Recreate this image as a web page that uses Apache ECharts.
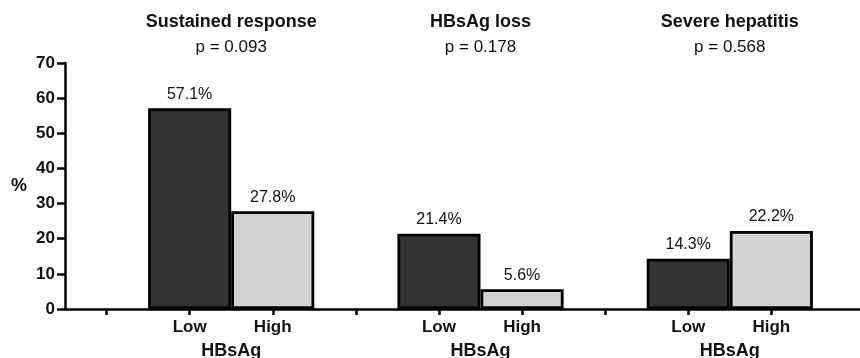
<!DOCTYPE html>
<html>
<head>
<meta charset="utf-8">
<script src="https://cdn.jsdelivr.net/npm/echarts@6/dist/echarts.min.js"></script>
<style>
html,body{margin:0;padding:0;background:#fff;}
#chart{width:860px;height:358px;}
</style>
</head>
<body>
<div id="chart"></div>
<script>
const categories = ['', 'Low', 'High', '', 'Low', 'High', '', 'Low', 'High', ''];
const groupTitles = ['Sustained response', 'HBsAg loss', 'Severe hepatitis'];
const pValues = ['p = 0.093', 'p = 0.178', 'p = 0.568'];
const lowValues = [57.1, 21.4, 14.3];
const highValues = [27.8, 5.6, 22.2];
const groupAxisLabel = 'HBsAg';
const yMin = 0, yMax = 70, yInterval = 10;

const FONT = '"Liberation Sans", Arial, sans-serif';
const DARK = '#333333', LIGHT = '#d3d3d3', INK = '#111111';

const barData = [];
categories.forEach((c, i) => {
  if (c === 'Low') {
    barData.push({ value: lowValues[Math.floor(i / 3)], itemStyle: { color: DARK } });
  } else if (c === 'High') {
    barData.push({ value: highValues[Math.floor(i / 3)], itemStyle: { color: LIGHT } });
  } else {
    barData.push('-');
  }
});

const chart = echarts.init(document.getElementById('chart'), null, { renderer: 'canvas' });
chart.setOption({
  animation: false,
  backgroundColor: '#ffffff',
  grid: { left: 65, top: 63, height: 246, width: 831, outerBoundsMode: 'none', containLabel: false },
  xAxis: {
    type: 'category',
    data: categories,
    boundaryGap: true,
    axisLine: { lineStyle: { color: '#000', width: 2.5 } },
    axisTick: {
      show: true, alignWithLabel: true, length: 6,
      interval: (index) => index < 9,
      lineStyle: { color: '#000', width: 2.5 }
    },
    axisLabel: {
      interval: 0, margin: 10,
      fontFamily: FONT, fontSize: 17, fontWeight: 'bold', color: INK
    },
    splitLine: { show: false }
  },
  yAxis: {
    type: 'value',
    min: yMin, max: yMax, interval: yInterval,
    name: '%',
    nameLocation: 'middle',
    nameRotate: 0,
    nameGap: 38,
    nameTextStyle: { fontFamily: FONT, fontSize: 18, fontWeight: 'bold', color: INK },
    axisLine: { show: true, lineStyle: { color: '#000', width: 2.5 } },
    axisTick: { show: true, length: 8, lineStyle: { color: '#000', width: 2.5 } },
    axisLabel: { margin: 10, fontFamily: FONT, fontSize: 17, fontWeight: 'bold', color: INK },
    splitLine: { show: false }
  },
  series: [{
    type: 'bar',
    data: barData,
    barWidth: '100%',
    itemStyle: { borderColor: '#000', borderWidth: 2.8 },
    label: {
      show: true, position: 'top', distance: 6,
      fontFamily: FONT, fontSize: 16, color: INK,
      formatter: (p) => p.value.toFixed(1) + '%'
    }
  }]
});

const graphics = [];
for (let k = 0; k < 3; k++) {
  const xL = chart.convertToPixel({ xAxisIndex: 0 }, 1 + 3 * k);
  const xH = chart.convertToPixel({ xAxisIndex: 0 }, 2 + 3 * k);
  const cx = (xL + xH) / 2;
  graphics.push({
    type: 'text', x: cx, y: 22,
    style: { text: groupTitles[k], fontFamily: FONT, fontSize: 18, fontWeight: 'bold', fill: INK, align: 'center', verticalAlign: 'middle' }
  });
  graphics.push({
    type: 'text', x: cx, y: 47,
    style: { text: pValues[k], fontFamily: FONT, fontSize: 17, fill: INK, align: 'center', verticalAlign: 'middle' }
  });
  graphics.push({
    type: 'text', x: cx, y: 351,
    style: { text: groupAxisLabel, fontFamily: FONT, fontSize: 18, fontWeight: 'bold', fill: INK, align: 'center', verticalAlign: 'middle' }
  });
}
chart.setOption({ graphic: graphics });
</script>
</body>
</html>
